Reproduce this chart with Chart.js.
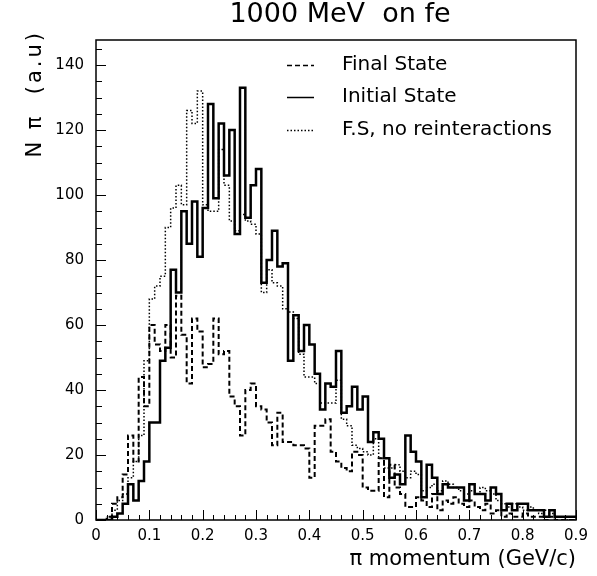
<!DOCTYPE html>
<html lang="en">
<head>
<meta charset="UTF-8">
<title>1000 MeV on fe</title>
<style>
  body { margin: 0; background: #fff; }
  canvas { display: block; }
</style>
<script src="https://cdn.jsdelivr.net/npm/chart.js@4"></script>
</head>
<body>
<canvas id="histo" width="597" height="576"></canvas>
<script>
// pion momentum spectra, 90 bins of 0.01 GeV/c from 0 to 0.9
var binWidth = 0.01;

var finalState = [
  0, 0, 1, 5, 7, 14, 26, 18, 44, 35,
  60, 54, 52, 60, 50, 69, 57, 42, 62, 58,
  47, 48, 62, 51, 52, 38, 35, 26, 40, 42,
  35, 34, 30, 23, 33, 24, 24, 23, 23, 22,
  13, 29, 29, 31, 21, 18, 16, 15, 21, 20,
  10, 9, 9, 19, 7, 17, 10, 8, 4, 4,
  7, 6, 4, 8, 3, 6, 5, 7, 5, 4,
  6, 4, 3, 5, 2, 3, 1, 2, 1, 1,
  2, 1, 1, 1, 0, 1, 0, 0, 0, 0
];
var initialState = [
  0, 0, 0, 1, 2, 5, 11, 6, 12, 18,
  30, 30, 49, 53, 77, 70, 95, 85, 98, 81,
  96, 128, 99, 122, 106, 120, 88, 133, 93, 103,
  108, 73, 80, 89, 78, 79, 49, 63, 52, 60,
  54, 45, 34, 42, 41, 52, 33, 35, 41, 34,
  38, 24, 27, 25, 19, 13, 14, 11, 26, 21,
  18, 7, 17, 13, 8, 11, 10, 10, 10, 6,
  11, 8, 8, 6, 10, 8, 3, 5, 3, 5,
  5, 3, 3, 3, 1, 3, 1, 1, 1, 1
];
var noReinteractions = [
  0, 0, 1, 3, 6, 8, 13, 18, 26, 49,
  68, 72, 75, 90, 96, 103, 97, 126, 122, 132,
  97, 95, 95, 114, 103, 92, 89, 94, 92, 91,
  88, 70, 77, 73, 72, 65, 64, 62, 51, 44,
  44, 42, 36, 36, 36, 43, 31, 29, 23, 22,
  21, 20, 25, 19, 16, 16, 17, 15, 13, 15,
  14, 9, 10, 11, 9, 12, 11, 10, 9, 8,
  9, 8, 10, 9, 8, 6, 5, 4, 5, 4,
  3, 4, 3, 2, 3, 2, 1, 1, 0, 0
];

var xTicks = [0, 0.1, 0.2, 0.3, 0.4, 0.5, 0.6, 0.7, 0.8, 0.9];
var yTicks = [0, 20, 40, 60, 80, 100, 120, 140];
var xMax = 0.9;
var yMax = 147.7;

var FONT = '"DejaVu Sans", sans-serif';

// one point per lower bin edge plus the upper edge of the last bin
function histPoints(counts) {
  var pts = counts.map(function (c, i) {
    return { x: +(i * binWidth).toFixed(2), y: c };
  });
  pts.push({ x: +(counts.length * binWidth).toFixed(2), y: counts[counts.length - 1] });
  return pts;
}

function histSet(label, counts, width, dash) {
  return {
    label: label,
    data: histPoints(counts),
    borderColor: '#000',
    borderWidth: width,
    borderDash: dash,
    stepped: true,
    pointRadius: 0,
    fill: false
  };
}

// frame with inward ticks, PAW style
var frameTicks = {
  id: 'frameTicks',
  afterDatasetsDraw: function (chart) {
    var ctx = chart.ctx, a = chart.chartArea;
    var xs = chart.scales.x, ys = chart.scales.y;
    ctx.save();
    ctx.strokeStyle = '#000';
    ctx.lineWidth = 1;
    ctx.beginPath();
    for (var k = 0; k <= 45; k++) {
      var px = Math.round(xs.getPixelForValue(k * 0.02)) + 0.5;
      var len = k % 5 === 0 ? 10 : 5;
      ctx.moveTo(px, a.bottom);
      ctx.lineTo(px, a.bottom - len);
    }
    for (var j = 0; j * 5 <= yMax; j++) {
      var py = Math.round(ys.getPixelForValue(j * 5)) + 0.5;
      var l = j % 4 === 0 ? 10 : 6;
      ctx.moveTo(a.left, py);
      ctx.lineTo(a.left + l, py);
    }
    ctx.stroke();
    ctx.lineWidth = 1.5;
    ctx.strokeRect(a.left, a.top, a.right - a.left, a.bottom - a.top);
    ctx.restore();
  }
};

// title, axis titles and the legend box inside the frame
var labels = {
  id: 'labels',
  afterDraw: function (chart) {
    var ctx = chart.ctx, a = chart.chartArea;
    ctx.save();
    ctx.fillStyle = '#000';
    ctx.textBaseline = 'middle';

    ctx.font = '27px ' + FONT;
    ctx.textAlign = 'center';
    ctx.fillText('1000 MeV  on fe', 340, 15);

    ctx.font = '21px ' + FONT;
    ctx.textAlign = 'right';
    ctx.fillText('\u03c0 momentum (GeV/c)', a.right, 560);

    ctx.save();
    ctx.translate(36, a.top - 10);
    ctx.rotate(-Math.PI / 2);
    ctx.letterSpacing = '3px';
    ctx.fillText('N \u03c0  (a.u)', 0, 0);
    ctx.restore();

    ctx.font = '20px ' + FONT;
    ctx.textAlign = 'left';
    var rows = [65, 97, 130];
    chart.data.datasets.forEach(function (ds, i) {
      var y = rows[i];
      ctx.save();
      ctx.lineWidth = Math.min(ds.borderWidth, 1.5);
      ctx.setLineDash(ds.borderDash || []);
      ctx.beginPath();
      ctx.moveTo(287, y + 0.5);
      ctx.lineTo(314, y + 0.5);
      ctx.stroke();
      ctx.restore();
      ctx.fillText(ds.label, 342, y);
    });
    ctx.restore();
  }
};

new Chart(document.getElementById('histo'), {
  type: 'line',
  data: {
    datasets: [
      histSet('Final State', finalState, 2, [5, 3]),
      histSet('Initial State', initialState, 2.5, []),
      histSet('F.S, no reinteractions', noReinteractions, 1.5, [1.5, 2])
    ]
  },
  options: {
    responsive: false,
    animation: false,
    devicePixelRatio: 1,
    layout: { padding: { top: 40, right: 21, left: 0, bottom: 0 } },
    plugins: {
      legend: { display: false },
      title: { display: false },
      tooltip: { enabled: false }
    },
    scales: {
      x: {
        type: 'linear',
        min: 0,
        max: xMax,
        grid: { display: false, drawTicks: false },
        border: { display: false },
        afterBuildTicks: function (s) { s.ticks = xTicks.map(function (v) { return { value: v }; }); },
        afterFit: function (s) { s.height = 56; },
        ticks: {
          padding: 7,
          maxRotation: 0,
          color: '#000',
          font: { family: FONT, size: 15 },
          callback: function (v) { return v === 0 ? '0' : v.toFixed(1); }
        }
      },
      y: {
        min: 0,
        max: yMax,
        grid: { display: false, drawTicks: false },
        border: { display: false },
        afterBuildTicks: function (s) { s.ticks = yTicks.map(function (v) { return { value: v }; }); },
        afterFit: function (s) { s.width = 96; },
        ticks: {
          padding: 12,
          color: '#000',
          font: { family: FONT, size: 15 }
        }
      }
    }
  },
  plugins: [frameTicks, labels]
});
</script>
</body>
</html>
